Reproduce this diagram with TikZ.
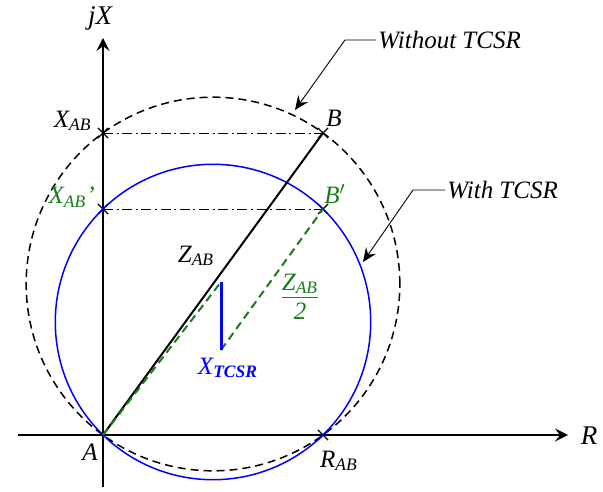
\documentclass[tikz,border=0pt]{standalone}
\usepackage{fontspec}
\setmainfont{Liberation Serif}
\usetikzlibrary{arrows.meta,positioning,shapes.misc,calc}
\definecolor{dgreen}{RGB}{25,125,25}

\begin{document}
\begin{tikzpicture}[x=0.5pt, y=-0.5pt,
  font=\fontsize{12.5}{15}\selectfont\itshape,
  axis/.style={line width=1pt, -{Stealth[length=6.5pt, width=6.5pt, inset=2.5pt]}},
  crossmark/.style={draw, cross out, minimum size=4.5pt, inner sep=0pt, line width=0.6pt},
  oldcircle/.style={line width=0.75pt, dash pattern=on 4pt off 2.5pt},
  newcircle/.style={blue, line width=0.75pt},
  guide/.style={line width=0.45pt, dash pattern=on 5pt off 1.8pt on 1pt off 1.8pt},
  zhalf/.style={dgreen, line width=1pt, dash pattern=on 4pt off 2.5pt},
  leader/.style={line width=0.45pt, -{Stealth[length=7pt, width=6pt, inset=2.5pt]}},
  lbl/.style={inner sep=1pt}]
\useasboundingbox (0,0) rectangle (603,491);
% axes
\coordinate (A) at (103,435);
\coordinate (xstart) at (18,435);
\coordinate (xend) at (568,435);
\coordinate (ystart) at (103,487);
\coordinate (yend) at (103,38);
\draw[axis] (xstart) -- (xend);
\draw[axis] (ystart) -- (yend);
\node[lbl, font=\fontsize{13.5}{15}\selectfont\itshape] (jx) at (100,18) {jX};
\node[lbl, font=\fontsize{13.5}{15}\selectfont\itshape] (r) at (589,436) {R};
% points
\node[crossmark] (XAB) at (103,133) {};
\node[crossmark] (XABp) at (103,209) {};
\node[crossmark] (B) at (323,133) {};
\node[crossmark] (Bp) at (323,209) {};
\node[crossmark] (RAB) at (323,435) {};
% circles
\draw[oldcircle] let \p1=($(B.center)-(A)$), \n1={veclen(\x1,\y1)/2} in
  ($(A)!0.5!(B.center)$) circle[radius=\n1];
\draw[newcircle] let \p1=($(Bp.center)-(A)$), \n1={veclen(\x1,\y1)/2} in
  ($(A)!0.5!(Bp.center)$) circle[radius=\n1];
\draw[guide] (XAB.center) -- (B.center);
\draw[guide] (XABp.center) -- (Bp.center);
% impedances
\coordinate (M) at (221,282);
\coordinate (N) at (221,350);
\draw[line width=1pt] (A) -- (B.center);
\draw[zhalf] (A) -- (M);
\draw[zhalf] (N) -- (Bp.center);
\draw[blue, line width=1.5pt] (M) -- (N);
% labels
\node[lbl] (albl) at (90,452) {A};
\node[lbl] (blbl) at (334,118) {B};
\node[lbl, dgreen] (bplbl) at (335,194) {B$'$};
\node[lbl] (rablbl) at (339,461) {R\textsubscript{AB}};
\node[lbl, anchor=east] (xablbl) at (94,121) {X\textsubscript{AB}};
\node[lbl, anchor=east, dgreen] (xabplbl) at (97,197) {X\textsubscript{AB}'};
\node[lbl] (zab) at (196,256) {Z\textsubscript{AB}};
\node[lbl, dgreen, inner sep=0pt] (zhalflbl) at (300,299)
  {\begin{tabular}{@{}c@{}}Z\textsubscript{AB}\\[-1pt]\hline\rule{0pt}{11pt}2\end{tabular}};
\node[lbl, blue] (xtcsr) at (228,368) {X\textsubscript{\bfseries TCSR}};
% annotations
\node[lbl, anchor=west] (without) at (376,40) {Without TCSR};
\node[lbl, anchor=west] (with) at (445,190) {With TCSR};
\coordinate (wobend) at (345,40);
\coordinate (wotip) at (295,110);
\coordinate (wbend) at (413,190);
\coordinate (wtip) at (363,262);
\draw[leader] (without.west) -- (wobend) -- (wotip);
\draw[leader] (with.west) -- (wbend) -- (wtip);
\end{tikzpicture}
\end{document}
